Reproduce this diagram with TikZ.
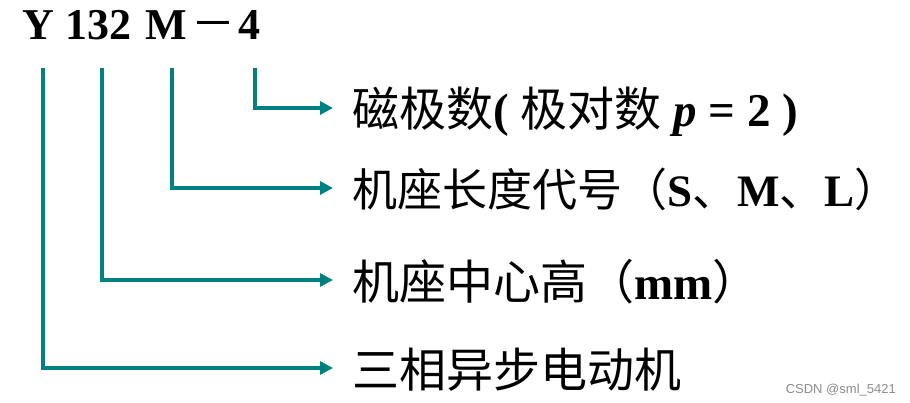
\documentclass[tikz,border=0pt]{standalone}
\usepackage{fontspec}
\setmainfont{Liberation Serif}
\newfontfamily\cjk{Noto Sans CJK SC}
\newfontfamily\wmfont{Liberation Sans}
\usetikzlibrary{arrows.meta}
\definecolor{tealline}{RGB}{0,128,128}
\definecolor{wmgray}{RGB}{140,140,140}
\tikzset{
  conn/.style={draw=tealline, line width=4pt, line join=miter, shorten >=19pt,
    -{Triangle[length=13pt,width=13pt]}},
  titlepart/.style={inner sep=0pt, anchor=base west, font=\fontsize{44}{50}\selectfont\bfseries},
  lab/.style={inner sep=0pt, anchor=west,
    text height=38pt, text depth=0pt,
    font=\fontsize{47}{54}\selectfont}
}
\begin{document}
\begin{tikzpicture}[x=1pt,y=-1pt]
\useasboundingbox (0,0) rectangle (910,403);
% title
\node[titlepart] (tY) at (22,40) {Y};
\node[titlepart] (t132) at (65,40) {132};
\node[titlepart] (tM) at (145,40) {M};
\node[titlepart] (tdash) at (191,40) {{\cjk\mdseries －}};
\node[titlepart] (t4) at (238,40) {4};
% line tops
\coordinate (cY) at (43,68);
\coordinate (c132) at (102,68);
\coordinate (cM) at (172,68);
\coordinate (c4) at (255,68);
% labels
\node[lab] (l4) at (352,108) {{\cjk 磁极数}\textbf{( }{\cjk 极对数} \textbf{\textit{p} = 2 )}};
\node[lab, font=\fontsize{45}{52}\selectfont] (lM) at (352,188) {{\cjk 机座长度代号（}\textbf{S}{\cjk 、}\textbf{M}{\cjk 、}\textbf{L}{\cjk ）}};
\node[lab] (l132) at (352,280) {{\cjk 机座中心高（}\textbf{mm}{\cjk ）}};
\node[lab] (lY) at (352,368) {{\cjk 三相异步电动机}};
% connectors
\draw[conn] (c4) |- (l4.west);
\draw[conn] (cM) |- (lM.west);
\draw[conn] (c132) |- (l132.west);
\draw[conn] (cY) |- (lY.west);
% watermark
\node[anchor=south east, inner sep=0pt, text=wmgray, font=\wmfont\fontsize{13}{15}\selectfont] (wm) at (896,396) {CSDN @sml\_5421};
\end{tikzpicture}
\end{document}
